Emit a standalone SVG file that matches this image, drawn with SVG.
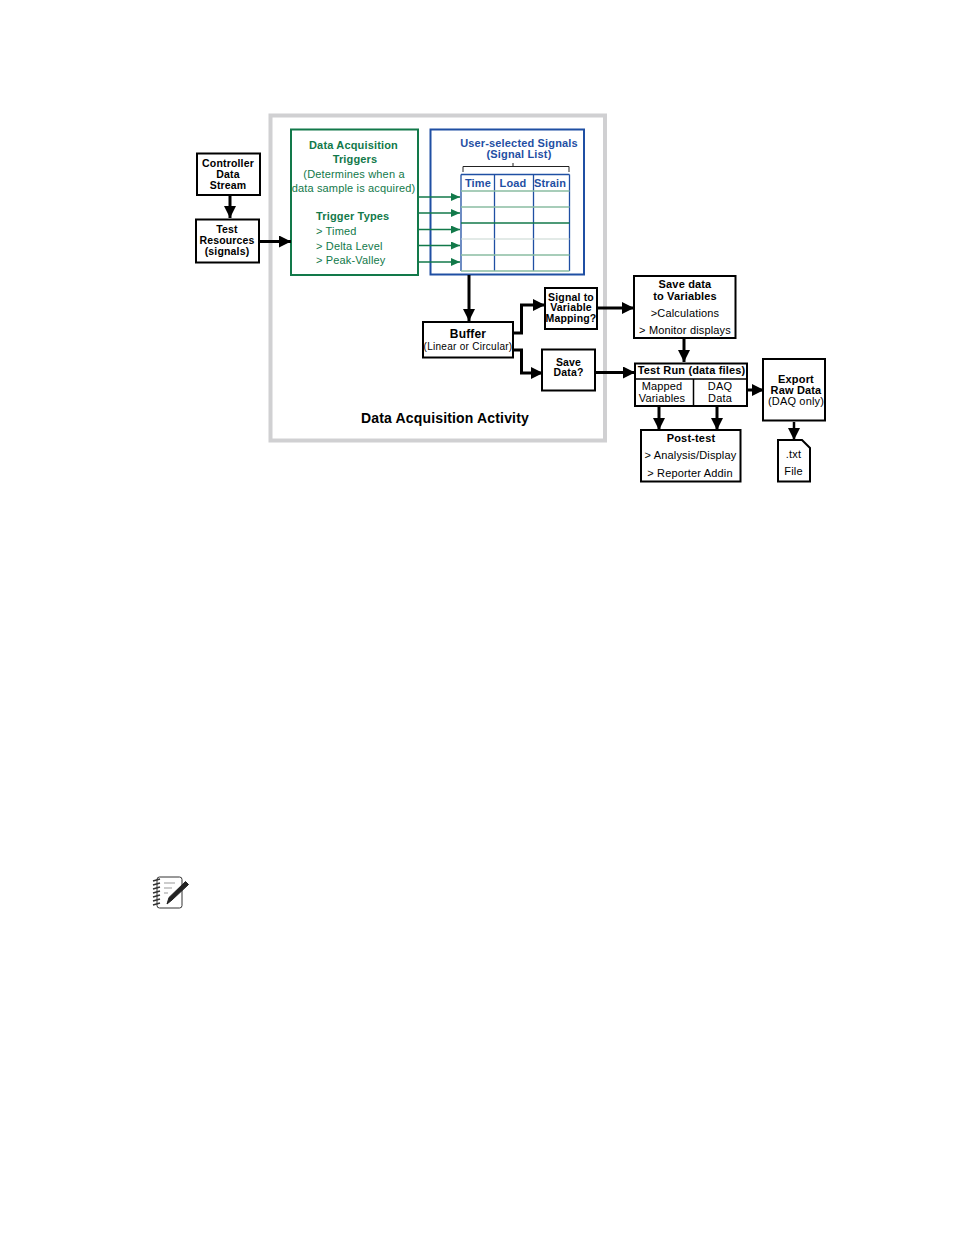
<svg xmlns="http://www.w3.org/2000/svg" width="954" height="1235" viewBox="0 0 954 1235">
<style>
text{font-family:"Liberation Sans",Arial,sans-serif;text-anchor:middle;fill:#000;letter-spacing:.16px}
.box{fill:#fff;stroke:#000;stroke-width:2}
.t10{font-size:10.5px}
.t11{font-size:11px}
.b{font-weight:bold}
.g text{fill:#12794a}
.bl{fill:#1f4fa3}
.l{text-anchor:start}
.wire{fill:none;stroke:#000;stroke-width:3}
.wire2{fill:none;stroke:#000;stroke-width:2.5}
.gw{stroke:#12794a;stroke-width:1.6;fill:none}
</style>
<defs>
<marker id="ah" markerUnits="userSpaceOnUse" markerWidth="13" markerHeight="12" refX="12" refY="6" orient="auto"><path d="M0 0L12 6L0 12Z" fill="#000"/></marker>
<marker id="ag" markerUnits="userSpaceOnUse" markerWidth="9" markerHeight="8" refX="9" refY="4" orient="auto"><path d="M0 0L9 4L0 8Z" fill="#12794a"/></marker>
</defs>

<!-- activity frame -->
<g id="activity">
<rect x="270.500" y="115.500" width="334.500" height="325" fill="#fff" stroke="#d0d0d2" stroke-width="4"/>
<text x="445" y="423" font-size="14" class="b">Data Acquisition Activity</text>
</g>

<g id="triggers" class="g">
<rect x="291" y="129.500" width="127" height="145.500" fill="#fff" stroke="#12794a" stroke-width="2"/>
<text x="353.500" y="149" class="t11 b">Data Acquisition</text>
<text x="355" y="163" class="t11 b">Triggers</text>
<text x="354" y="178" class="t11">(Determines when a</text>
<text x="353.500" y="192" class="t11">data sample is acquired)</text>
<text x="316" y="220" class="t11 b l">Trigger Types</text>
<text x="316" y="235" class="t11 l">&gt; Timed</text>
<text x="316" y="249.500" class="t11 l">&gt; Delta Level</text>
<text x="316" y="264" class="t11 l">&gt; Peak-Valley</text>
</g>

<g id="signals">
<rect x="430.500" y="129.500" width="153.500" height="145" fill="#fff" stroke="#1f4fa3" stroke-width="2"/>
<text x="519" y="147" class="t11 b bl">User-selected Signals</text>
<text x="519" y="158" class="t11 b bl">(Signal List)</text>
<path d="M463 172V166.500H569V172M513 166.500V163" fill="none" stroke="#222" stroke-width="1"/>
<path d="M461 174.500H569.500M461 174.500V271M494.500 174.500V271M533.500 174.500V271M569.500 174.500V271" fill="none" stroke="#1f4fa3" stroke-width="1.300"/>
<path d="M461 191H569.500M461 207H569.500M461 255H569.500M461 271H569.500" stroke="#8abda2" stroke-width="1.500" fill="none"/>
<path d="M461 223H569.500" stroke="#12794a" stroke-width="1.500" fill="none"/>
<path d="M461 239H569.500" stroke="#c5d5cf" stroke-width="1" fill="none"/>
<text x="478" y="187" class="t11 b bl">Time</text>
<text x="513" y="187" class="t11 b bl">Load</text>
<text x="550" y="187" class="t11 b bl">Strain</text>
</g>

<g id="controller">
<rect class="box" x="197" y="153.500" width="63" height="41.500"/>
<text x="228" y="167" class="t10 b">Controller</text>
<text x="228" y="178" class="t10 b">Data</text>
<text x="228" y="189" class="t10 b">Stream</text>
</g>
<g id="resources">
<rect class="box" x="196" y="219.500" width="63" height="43"/>
<text x="227" y="233" class="t10 b">Test</text>
<text x="227" y="244" class="t10 b">Resources</text>
<text x="227" y="255" class="t10 b">(signals)</text>
</g>
<g id="buffer">
<rect class="box" x="423" y="322" width="90" height="35.500"/>
<text x="468" y="338" font-size="12" class="b">Buffer</text>
<text x="468" y="349.500" font-size="10" style="letter-spacing:.28px">(Linear or Circular)</text>
</g>
<g id="mapping">
<rect class="box" x="545" y="288" width="52" height="41"/>
<text x="571" y="301" class="t10 b">Signal to</text>
<text x="571" y="311" class="t10 b">Variable</text>
<text x="571" y="321.500" class="t10 b">Mapping?</text>
</g>
<g id="savedata">
<rect class="box" x="542" y="349.500" width="53" height="41"/>
<text x="568.500" y="366" class="t10 b">Save</text>
<text x="568.500" y="376" class="t10 b">Data?</text>
</g>
<g id="savevars">
<rect class="box" x="634" y="276" width="101.500" height="62"/>
<text x="685" y="288" class="t11 b">Save data</text>
<text x="685" y="299.500" class="t11 b">to Variables</text>
<text x="685" y="317" class="t11">&gt;Calculations</text>
<text x="685" y="334" class="t11">&gt; Monitor displays</text>
</g>
<g id="testrun">
<rect class="box" x="635" y="363.500" width="112" height="42.500"/>
<path d="M635 379H747M693.500 379V406" stroke="#000" stroke-width="1.500" fill="none"/>
<text x="691.500" y="374" class="t11 b">Test Run (data files)</text>
<text x="662" y="389.500" class="t11">Mapped</text>
<text x="662" y="402" class="t11">Variables</text>
<text x="720" y="389.500" class="t11">DAQ</text>
<text x="720" y="402" class="t11">Data</text>
</g>
<g id="export">
<rect class="box" x="763" y="359" width="62" height="61.500"/>
<text x="796" y="383" class="t11 b">Export</text>
<text x="796" y="394" class="t11 b">Raw Data</text>
<text x="796" y="405" class="t11">(DAQ only)</text>
</g>
<g id="posttest">
<rect class="box" x="641" y="430" width="99.500" height="51.500"/>
<text x="691" y="442" class="t11 b">Post-test</text>
<text x="690.500" y="459" class="t11">&gt; Analysis/Display</text>
<text x="690" y="476.500" class="t11">&gt; Reporter Addin</text>
</g>
<g id="txtfile">
<path d="M778 440H802L810 448V481.500H778Z" class="box" stroke-width="1.500"/>
<text x="793.500" y="458" class="t11">.txt</text>
<text x="793.500" y="475" class="t11">File</text>
</g>

<g id="connectors">
<path class="wire" d="M230 196V218" marker-end="url(#ah)"/>
<path class="wire" d="M260 241.500H291" marker-end="url(#ah)"/>
<path class="wire" d="M469 275V321" marker-end="url(#ah)"/>
<path class="wire" d="M514 333H521.500V305H545" marker-end="url(#ah)"/>
<path class="wire" d="M514 350H521.500V373H543" marker-end="url(#ah)"/>
<path class="wire" d="M598 308H634" marker-end="url(#ah)"/>
<path class="wire" d="M595 372.500H635" marker-end="url(#ah)"/>
<path class="wire" d="M684 339V362" marker-end="url(#ah)"/>
<path class="wire" d="M659 407V430" marker-end="url(#ah)"/>
<path class="wire" d="M717 407V430" marker-end="url(#ah)"/>
<path class="wire" d="M748 390H764" marker-end="url(#ah)"/>
<path class="wire2" d="M794 422V440" marker-end="url(#ah)"/>
<path class="gw" d="M419 197H460" marker-end="url(#ag)"/>
<path class="gw" d="M419 213H460" marker-end="url(#ag)"/>
<path class="gw" d="M419 229.500H460" marker-end="url(#ag)"/>
<path class="gw" d="M419 245.500H460" marker-end="url(#ag)"/>
<path class="gw" d="M419 262H460" marker-end="url(#ag)"/>
</g>

<!-- note icon: notepad with pencil -->
<g id="note-icon" fill="none" stroke="#333">
<rect x="157" y="877" width="25" height="31" rx="2.500" stroke-width="1"/>
<path d="M153 881l7 -2M153 885l7 -2M153 889l7 -2M153 893l7 -2M153 897l7 -2M153 901l7 -2M153 905l7 -2" stroke-width="1.500"/>
<path d="M164 883H175M164 888H172M164 893H168" stroke="#999" stroke-width="1.200"/>
<path d="M185.500 881.500L188.500 884.500L172 900L167 904L169 897.500Z" fill="#222" stroke="#222" stroke-width="1"/>
</g>
</svg>
